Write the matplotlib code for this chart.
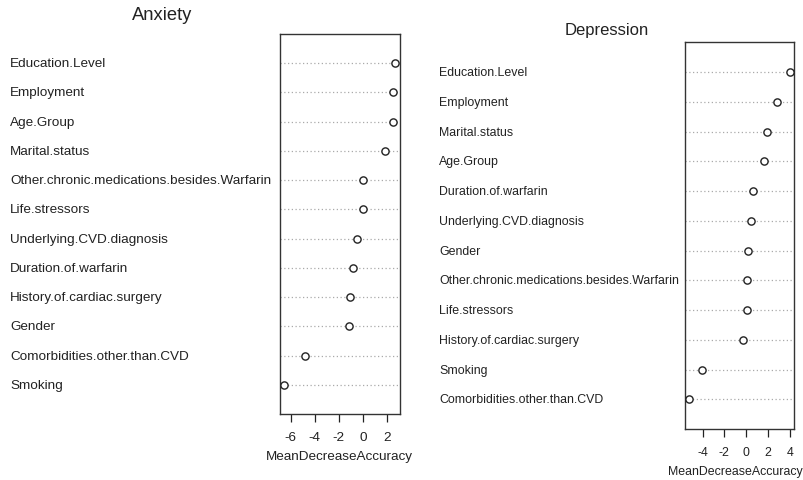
import numpy as np
import matplotlib
matplotlib.use("Agg")
import matplotlib.pyplot as plt
from matplotlib.transforms import blended_transform_factory

plt.rcParams['font.family'] = ['Liberation Sans', 'DejaVu Sans']
plt.rcParams['axes.unicode_minus'] = False

# anxiety panel
anx_labels = ["Education.Level", "Employment", "Age.Group", "Marital.status",
              "Other.chronic.medications.besides.Warfarin", "Life.stressors",
              "Underlying.CVD.diagnosis", "Duration.of.warfarin",
              "History.of.cardiac.surgery", "Gender",
              "Comorbidities.other.than.CVD", "Smoking"]
anx_vals = [2.69, 2.55, 2.55, 1.89, 0.05, 0.05, -0.45, -0.81, -1.09, -1.17, -4.81, -6.53]
anx_ticks = [-6, -4, -2, 0, 2]

# depression panel
dep_labels = ["Education.Level", "Employment", "Marital.status", "Age.Group",
              "Duration.of.warfarin", "Underlying.CVD.diagnosis", "Gender",
              "Other.chronic.medications.besides.Warfarin", "Life.stressors",
              "History.of.cardiac.surgery", "Smoking",
              "Comorbidities.other.than.CVD"]
dep_vals = [4.05, 2.82, 1.90, 1.63, 0.61, 0.40, 0.18, 0.03, 0.03, -0.28, -4.08, -5.21]
dep_ticks = [-4, -2, 0, 2, 4]

fig = plt.figure(figsize=(8.04, 4.81), dpi=100)


def dotchart(rect, labels, vals, ticks, title, title_xy, label_x, fs, tfs, xlab_pos):
    ax = fig.add_axes(rect)
    n = len(vals)
    y = np.arange(n, 0, -1)
    for yi in y:
        ax.axhline(yi, color='#aaaaaa', lw=0.9, ls=(0, (1, 2)), zorder=1)
    ax.plot(vals, y, 'o', mfc='white', mec='#222222', mew=1.0, ms=5.2, zorder=3)
    lo, hi = min(vals), max(vals)
    ext = 0.04 * (hi - lo)
    ax.set_xlim(lo - ext, hi + ext)
    ax.set_ylim(0, n + 1)
    ax.set_yticks([])
    ax.set_xticks(ticks)
    ax.tick_params(axis='x', length=5.5, width=0.9, pad=7, labelsize=fs, colors='#222222')
    ax.set_xlabel("MeanDecreaseAccuracy", fontsize=fs, color='#222222', va='center')
    ax.xaxis.set_label_coords(*xlab_pos)
    for s in ax.spines.values():
        s.set_linewidth(1.0)
        s.set_color('#333333')
    tr = blended_transform_factory(fig.transFigure, ax.transData)
    for lab, yi in zip(labels, y):
        ax.text(label_x, yi, lab, transform=tr, ha='left', va='center',
                fontsize=fs, color='#222222', clip_on=False)
    fig.text(title_xy[0], title_xy[1], title, ha='center', va='center',
             fontsize=tfs, color='#222222')
    return ax


dotchart([280 / 804, 1 - 415 / 481, 119.5 / 804, 380 / 481],
         anx_labels, anx_vals, anx_ticks, "Anxiety", (162 / 804, 1 - 16 / 481),
         10 / 804, 9.7, 13.2, (0.5, -0.11))
dotchart([685.3 / 804, 1 - 430 / 481, 109.2 / 804, 386.7 / 481],
         dep_labels, dep_vals, dep_ticks, "Depression", (607 / 804, 1 - 31 / 481),
         439.3 / 804, 8.9, 12.0, (0.46, -0.109))

fig.savefig("out.png", dpi=100)
